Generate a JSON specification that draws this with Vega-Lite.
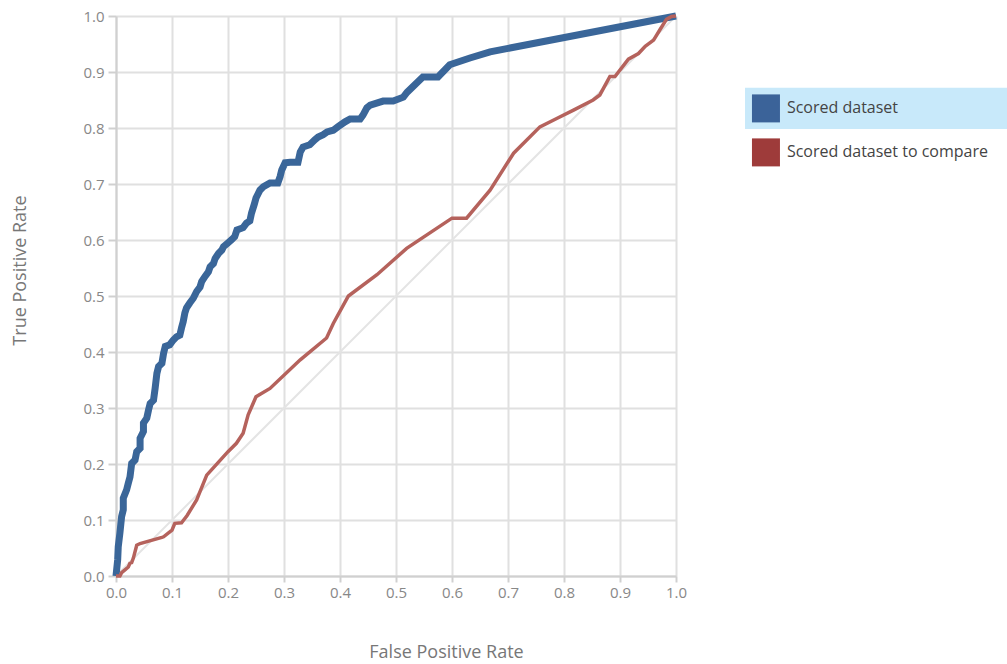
{
  "$schema": "https://vega.github.io/schema/vega-lite/v6.json",
  "padding": {"left": 11, "top": 2, "right": 0, "bottom": 0},
  "background": "white",
  "spacing": 55,
  "config": {"view": {"stroke": null}, "font": "Segoe UI, Open Sans, sans-serif"},
  "datasets": {
    "blue": [
      {"fpr":0,"tpr":0},{"fpr":0.003,"tpr":0.029},{"fpr":0.004,"tpr":0.052},{"fpr":0.007,"tpr":0.077},{"fpr":0.010,"tpr":0.106},
      {"fpr":0.013,"tpr":0.118},{"fpr":0.013,"tpr":0.139},{"fpr":0.019,"tpr":0.154},{"fpr":0.022,"tpr":0.166},{"fpr":0.025,"tpr":0.177},
      {"fpr":0.028,"tpr":0.201},{"fpr":0.034,"tpr":0.207},{"fpr":0.037,"tpr":0.222},{"fpr":0.043,"tpr":0.228},{"fpr":0.043,"tpr":0.246},
      {"fpr":0.049,"tpr":0.258},{"fpr":0.049,"tpr":0.273},{"fpr":0.055,"tpr":0.282},{"fpr":0.058,"tpr":0.296},{"fpr":0.061,"tpr":0.308},
      {"fpr":0.067,"tpr":0.314},{"fpr":0.070,"tpr":0.336},{"fpr":0.073,"tpr":0.362},{"fpr":0.076,"tpr":0.374},{"fpr":0.082,"tpr":0.380},
      {"fpr":0.085,"tpr":0.398},{"fpr":0.088,"tpr":0.410},{"fpr":0.096,"tpr":0.413},{"fpr":0.102,"tpr":0.421},{"fpr":0.108,"tpr":0.427},
      {"fpr":0.114,"tpr":0.430},{"fpr":0.117,"tpr":0.443},{"fpr":0.120,"tpr":0.454},{"fpr":0.123,"tpr":0.470},{"fpr":0.126,"tpr":0.479},
      {"fpr":0.132,"tpr":0.488},{"fpr":0.138,"tpr":0.496},{"fpr":0.144,"tpr":0.508},{"fpr":0.150,"tpr":0.516},{"fpr":0.153,"tpr":0.526},
      {"fpr":0.159,"tpr":0.535},{"fpr":0.165,"tpr":0.543},{"fpr":0.168,"tpr":0.552},{"fpr":0.174,"tpr":0.558},{"fpr":0.177,"tpr":0.567},
      {"fpr":0.183,"tpr":0.576},{"fpr":0.189,"tpr":0.582},{"fpr":0.192,"tpr":0.588},{"fpr":0.200,"tpr":0.595},{"fpr":0.206,"tpr":0.600},
      {"fpr":0.212,"tpr":0.606},{"fpr":0.216,"tpr":0.618},{"fpr":0.227,"tpr":0.622},{"fpr":0.233,"tpr":0.630},{"fpr":0.239,"tpr":0.634},
      {"fpr":0.242,"tpr":0.648},{"fpr":0.247,"tpr":0.664},{"fpr":0.250,"tpr":0.675},{"fpr":0.257,"tpr":0.689},{"fpr":0.263,"tpr":0.695},
      {"fpr":0.275,"tpr":0.702},{"fpr":0.289,"tpr":0.702},{"fpr":0.293,"tpr":0.713},{"fpr":0.296,"tpr":0.725},{"fpr":0.302,"tpr":0.738},
      {"fpr":0.311,"tpr":0.739},{"fpr":0.325,"tpr":0.739},{"fpr":0.329,"tpr":0.757},{"fpr":0.334,"tpr":0.766},{"fpr":0.346,"tpr":0.770},
      {"fpr":0.355,"tpr":0.779},{"fpr":0.361,"tpr":0.784},{"fpr":0.370,"tpr":0.788},{"fpr":0.377,"tpr":0.793},{"fpr":0.388,"tpr":0.796},
      {"fpr":0.396,"tpr":0.802},{"fpr":0.409,"tpr":0.811},{"fpr":0.418,"tpr":0.816},{"fpr":0.436,"tpr":0.816},{"fpr":0.441,"tpr":0.823},
      {"fpr":0.448,"tpr":0.836},{"fpr":0.454,"tpr":0.841},{"fpr":0.477,"tpr":0.848},{"fpr":0.495,"tpr":0.848},{"fpr":0.513,"tpr":0.855},
      {"fpr":0.520,"tpr":0.864},{"fpr":0.548,"tpr":0.891},{"fpr":0.575,"tpr":0.891},{"fpr":0.596,"tpr":0.913},{"fpr":0.632,"tpr":0.925},
      {"fpr":0.668,"tpr":0.936},{"fpr":1.0,"tpr":1.0}
    ],
    "red": [
      {"fpr":0,"tpr":0},{"fpr":0.007,"tpr":0.0},{"fpr":0.010,"tpr":0.006},{"fpr":0.016,"tpr":0.011},{"fpr":0.022,"tpr":0.016},
      {"fpr":0.025,"tpr":0.023},{"fpr":0.028,"tpr":0.024},{"fpr":0.031,"tpr":0.032},{"fpr":0.037,"tpr":0.055},{"fpr":0.043,"tpr":0.058},
      {"fpr":0.082,"tpr":0.069},{"fpr":0.085,"tpr":0.070},{"fpr":0.100,"tpr":0.082},{"fpr":0.105,"tpr":0.094},{"fpr":0.117,"tpr":0.095},
      {"fpr":0.127,"tpr":0.108},{"fpr":0.144,"tpr":0.136},{"fpr":0.162,"tpr":0.180},{"fpr":0.200,"tpr":0.222},{"fpr":0.215,"tpr":0.237},
      {"fpr":0.227,"tpr":0.255},{"fpr":0.236,"tpr":0.288},{"fpr":0.250,"tpr":0.320},{"fpr":0.275,"tpr":0.335},{"fpr":0.329,"tpr":0.386},
      {"fpr":0.376,"tpr":0.425},{"fpr":0.388,"tpr":0.451},{"fpr":0.415,"tpr":0.500},{"fpr":0.466,"tpr":0.538},{"fpr":0.519,"tpr":0.585},
      {"fpr":0.600,"tpr":0.639},{"fpr":0.626,"tpr":0.639},{"fpr":0.668,"tpr":0.689},{"fpr":0.710,"tpr":0.755},{"fpr":0.757,"tpr":0.802},
      {"fpr":0.787,"tpr":0.817},{"fpr":0.817,"tpr":0.832},{"fpr":0.852,"tpr":0.850},{"fpr":0.864,"tpr":0.859},{"fpr":0.882,"tpr":0.892},
      {"fpr":0.891,"tpr":0.892},{"fpr":0.915,"tpr":0.923},{"fpr":0.933,"tpr":0.933},{"fpr":0.945,"tpr":0.946},{"fpr":0.960,"tpr":0.957},
      {"fpr":0.971,"tpr":0.975},{"fpr":0.983,"tpr":0.994},{"fpr":0.992,"tpr":0.999},{"fpr":1.0,"tpr":1.0}
    ],
    "diag": [{"fpr":0,"tpr":0},{"fpr":1,"tpr":1}],
    "legend": [{"series":"Scored dataset"},{"series":"Scored dataset to compare"}]
  },
  "hconcat": [
    {
      "width": 560,
      "height": 560,
      "layer": [
        {
          "data": {"name": "diag"},
          "mark": {"type": "line", "color": "#e4e4e4", "strokeWidth": 2},
          "encoding": {
            "x": {"field": "fpr", "type": "quantitative", "scale": {"domain": [0, 1], "nice": false},
              "axis": {"title": "False Positive Rate", "values": [0,0.1,0.2,0.3,0.4,0.5,0.6,0.7,0.8,0.9,1.0], "format": ".1f",
                "grid": true, "gridColor": "#e0e0e0", "gridWidth": 2, "domainColor": "#d0d0d0", "domainWidth": 2,
                "tickColor": "#d0d0d0", "tickSize": 6, "tickWidth": 2, "labelFlush": false, "labelFontSize": 15, "labelColor": "#888888",
                "labelPadding": 3, "titleFontSize": 18, "titleColor": "#777777", "titleFontWeight": "normal",
                "titleX": 330, "titleY": 76, "titleBaseline": "middle"}},
            "y": {"field": "tpr", "type": "quantitative", "scale": {"domain": [0, 1], "nice": false},
              "axis": {"title": "True Positive Rate", "values": [0,0.1,0.2,0.3,0.4,0.5,0.6,0.7,0.8,0.9,1.0], "format": ".1f",
                "grid": true, "gridColor": "#e0e0e0", "gridWidth": 2, "domainColor": "#d0d0d0", "domainWidth": 2,
                "tickColor": "#d0d0d0", "tickSize": 8, "tickWidth": 2, "labelFlush": false, "labelFontSize": 15, "labelColor": "#888888",
                "labelPadding": 4, "titleFontSize": 18, "titleColor": "#777777", "titleFontWeight": "normal",
                "titleX": -96, "titleY": 254, "titleBaseline": "middle"}}
          }
        },
        {
          "data": {"name": "blue"},
          "mark": {"type": "line", "color": "#3a6699", "strokeWidth": 7},
          "encoding": {
            "x": {"field": "fpr", "type": "quantitative"},
            "y": {"field": "tpr", "type": "quantitative"},
            "order": {"value": null}
          }
        },
        {
          "data": {"name": "red"},
          "mark": {"type": "line", "color": "#b5625c", "strokeWidth": 3.5},
          "encoding": {
            "x": {"field": "fpr", "type": "quantitative"},
            "y": {"field": "tpr", "type": "quantitative"},
            "order": {"value": null}
          }
        }
      ]
    },
    {
      "width": 262,
      "height": 176,
      "data": {"name": "legend"},
      "layer": [
        {
          "transform": [{"filter": "datum.series === 'Scored dataset'"}],
          "mark": {"type": "bar", "color": "#c8e9fa", "height": {"band": 0.94}},
          "encoding": {
            "y": {"field": "series", "type": "nominal", "scale": {"domain": ["Scored dataset", "Scored dataset to compare"], "paddingInner": 0, "paddingOuter": 1, "align": 0.8}, "axis": null},
            "x": {"datum": 0, "type": "quantitative", "scale": {"domain": [0, 1], "nice": false}, "axis": null},
            "x2": {"datum": 1}
          }
        },
        {
          "mark": {"type": "square", "size": 784, "opacity": 1},
          "encoding": {
            "y": {"field": "series", "type": "nominal"},
            "x": {"datum": 0.08, "type": "quantitative"},
            "color": {"field": "series", "type": "nominal", "scale": {"domain": ["Scored dataset", "Scored dataset to compare"], "range": ["#3b6399", "#9e3b3a"]}, "legend": null}
          }
        },
        {
          "mark": {"type": "text", "align": "left", "baseline": "middle", "fontSize": 16, "color": "#444444"},
          "encoding": {
            "y": {"field": "series", "type": "nominal"},
            "x": {"datum": 0.16, "type": "quantitative"},
            "text": {"field": "series"}
          }
        }
      ]
    }
  ]
}
